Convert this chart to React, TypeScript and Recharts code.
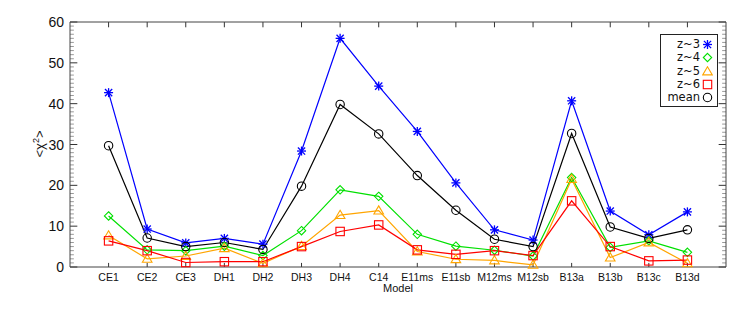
import React from 'react';
import { LineChart, Line, XAxis, YAxis, ReferenceLine } from 'recharts';

const models = ['CE1', 'CE2', 'CE3', 'DH1', 'DH2', 'DH3', 'DH4', 'C14', 'E11ms', 'E11sb', 'M12ms', 'M12sb', 'B13a', 'B13b', 'B13c', 'B13d'];
const z3 = [42.7, 9.3, 5.9, 7.0, 5.6, 28.4, 56.0, 44.3, 33.2, 20.6, 9.1, 6.6, 40.7, 13.7, 7.9, 13.5];
const z4 = [12.5, 4.2, 4.0, 5.1, 2.8, 8.9, 18.9, 17.3, 8.0, 5.1, 4.1, 2.7, 21.9, 4.8, 6.4, 3.6];
const z5 = [7.7, 2.0, 2.7, 4.6, 0.9, 5.1, 12.7, 13.8, 3.8, 1.9, 1.6, 0.5, 21.5, 2.3, 6.0, 0.9];
const z6 = [6.4, 4.0, 1.1, 1.3, 1.3, 5.0, 8.7, 10.3, 4.2, 3.1, 4.0, 2.8, 16.2, 5.0, 1.5, 1.7];
const meanVals = [29.7, 7.1, 5.0, 6.0, 4.3, 19.8, 39.8, 32.6, 22.4, 13.9, 6.8, 5.0, 32.7, 9.8, 7.0, 9.1];
const yMajor = [0, 10, 20, 30, 40, 50, 60];

const W = 747;
const H = 311;
const PLOT_LEFT = 70;
const PLOT_RIGHT = 726;
const PLOT_TOP = 22;
const PLOT_BOTTOM = 267;
const AXIS = '#444';
const FONT = '"Liberation Sans", Arial, Helvetica, sans-serif';

const X_MAX = 17;
const Y_MAX = 60;
const xTicks = models.map((_, i) => i + 1);
const yMinor = Array.from({ length: 61 }, (_, i) => i).filter((v) => !yMajor.includes(v));

// tick lengths expressed in axis units (1 x-unit ~ 38.6px, 1 y-unit ~ 4.08px)
const MAJOR_LEN_X = 0.19;
const MINOR_LEN_X = 0.1;
const TOP_LEN_Y = 1.3;
const BOTTOM_LEN_Y = 1.0;

const data = models.map((m, i) => ({
  pos: i + 1,
  model: m,
  z3: z3[i],
  z4: z4[i],
  z5: z5[i],
  z6: z6[i],
  mean: meanVals[i],
}));

const series = [
  { key: 'z3', name: 'z~3', color: '#0000ff', shape: 'star' },
  { key: 'z4', name: 'z~4', color: '#00e000', shape: 'diamond' },
  { key: 'z5', name: 'z~5', color: '#ffa500', shape: 'triangle' },
  { key: 'z6', name: 'z~6', color: '#ff0000', shape: 'square' },
  { key: 'mean', name: 'mean', color: '#000000', shape: 'circle' },
];

function Marker({ shape, cx, cy, color }: { shape: string; cx: number; cy: number; color: string }) {
  const sw = 1.1;
  if (shape === 'star') {
    const r = 4.5;
    const d = 3.6;
    return (
      <g stroke={color} strokeWidth={1.3}>
        <line x1={cx} y1={cy - r} x2={cx} y2={cy + r} />
        <line x1={cx - d} y1={cy - d} x2={cx + d} y2={cy + d} />
        <line x1={cx - d} y1={cy + d} x2={cx + d} y2={cy - d} />
        <line x1={cx - r} y1={cy} x2={cx + r} y2={cy} />
      </g>
    );
  }
  if (shape === 'diamond') {
    const r = 4.2;
    return <polygon points={`${cx},${cy - r} ${cx + r},${cy} ${cx},${cy + r} ${cx - r},${cy}`} fill="none" stroke={color} strokeWidth={sw} />;
  }
  if (shape === 'triangle') {
    const r = 4.8;
    return <polygon points={`${cx},${cy - r} ${cx + r},${cy + r * 0.7} ${cx - r},${cy + r * 0.7}`} fill="none" stroke={color} strokeWidth={sw} />;
  }
  if (shape === 'square') {
    const r = 4.2;
    return <rect x={cx - r} y={cy - r} width={2 * r} height={2 * r} fill="none" stroke={color} strokeWidth={sw} />;
  }
  return <circle cx={cx} cy={cy} r={4.2} fill="none" stroke={color} strokeWidth={sw} />;
}

const leftLabel = (props: any) => {
  const { y, payload } = props;
  return (
    <text key={`lt-${payload.value}`} x={PLOT_LEFT - 6} y={y} dy={5} textAnchor="end" fontSize={14} fontFamily={FONT} fill="#111">
      {payload.value}
    </text>
  );
};

const bottomLabel = (props: any) => {
  const { x, payload } = props;
  return (
    <text key={`bt-${payload.value}`} x={x} y={PLOT_BOTTOM + 13.5} textAnchor="middle" fontSize={10.5} fontFamily={FONT} fill="#111">
      {models[payload.value - 1]}
    </text>
  );
};

function YLabel() {
  const cx = 44;
  const cy = 144;
  return (
    <text transform={`translate(${cx},${cy}) rotate(-90)`} textAnchor="middle" fontSize={13} fontFamily={FONT} fill="#111">
      {'<χ'}
      <tspan dy={-5} fontSize={9}>2</tspan>
      <tspan dy={5}>{'>'}</tspan>
    </text>
  );
}

function LegendBox() {
  return (
    <div
      style={{
        position: 'absolute',
        left: 660,
        top: 34,
        border: '1.5px solid #222',
        background: '#fff',
        width: 58,
        height: 73,
        boxSizing: 'border-box',
        padding: '3px 0 0 0',
        fontFamily: '"DejaVu Sans", sans-serif',
        fontSize: 11.5,
        color: '#111',
      }}
    >
      {series.map((s) => (
        <div key={s.key} style={{ display: 'flex', alignItems: 'center', justifyContent: 'flex-end', height: 13.3, paddingRight: 4, lineHeight: '13px' }}>
          <span style={{ marginRight: 2 }}>{s.name}</span>
          <svg width={11} height={11}>
            <Marker shape={s.shape} cx={5.5} cy={5.5} color={s.color} />
          </svg>
        </div>
      ))}
    </div>
  );
}

function tickSeg(key: string, a: { x: number; y: number }, b: { x: number; y: number }, color: string) {
  return (
    <ReferenceLine
      key={key}
      xAxisId="b"
      yAxisId="l"
      segment={[a, b]}
      stroke={color}
      strokeWidth={1}
      ifOverflow="visible"
    />
  );
}

export default function App() {
  const ticks: React.ReactNode[] = [];
  yMinor.forEach((v) => {
    ticks.push(tickSeg(`lm${v}`, { x: 0, y: v }, { x: MINOR_LEN_X, y: v }, '#999'));
    ticks.push(tickSeg(`rm${v}`, { x: X_MAX, y: v }, { x: X_MAX - MINOR_LEN_X, y: v }, '#999'));
  });
  yMajor.forEach((v) => {
    ticks.push(tickSeg(`lM${v}`, { x: 0, y: v }, { x: MAJOR_LEN_X, y: v }, '#333'));
    ticks.push(tickSeg(`rM${v}`, { x: X_MAX, y: v }, { x: X_MAX - MAJOR_LEN_X, y: v }, '#333'));
  });
  xTicks.forEach((v) => {
    ticks.push(tickSeg(`t${v}`, { x: v, y: Y_MAX }, { x: v, y: Y_MAX - TOP_LEN_Y }, '#333'));
    ticks.push(tickSeg(`b${v}`, { x: v, y: 0 }, { x: v, y: BOTTOM_LEN_Y }, '#333'));
  });

  return (
    <div style={{ margin: -8, width: W, height: H, background: '#fff', position: 'relative' }}>
      <LineChart width={W} height={H} data={data} margin={{ top: PLOT_TOP - 1, right: W - PLOT_RIGHT - 1, bottom: 0, left: 30 }}>
        <XAxis
          xAxisId="b"
          dataKey="pos"
          type="number"
          domain={[0, X_MAX]}
          ticks={xTicks}
          interval={0}
          height={H - PLOT_BOTTOM}
          tickLine={false}
          axisLine={{ stroke: AXIS }}
          tick={bottomLabel}
          label={{ value: 'Model', position: 'insideBottom', offset: 19, fontSize: 11, fontFamily: FONT, fill: '#111' }}
        />
        <XAxis xAxisId="t" orientation="top" type="number" domain={[0, X_MAX]} height={1} tick={false} tickLine={false} axisLine={{ stroke: AXIS }} />
        <YAxis
          yAxisId="l"
          domain={[0, Y_MAX]}
          ticks={yMajor}
          interval={0}
          width={40}
          tickLine={false}
          axisLine={{ stroke: AXIS }}
          tick={leftLabel}
          label={{ content: () => <YLabel /> }}
        />
        <YAxis yAxisId="r" orientation="right" domain={[0, Y_MAX]} width={1} tick={false} tickLine={false} axisLine={{ stroke: AXIS }} />
        {ticks}
        {series.map((s) => (
          <Line
            key={s.key}
            xAxisId="b"
            yAxisId="l"
            dataKey={s.key}
            name={s.name}
            type="linear"
            stroke={s.color}
            strokeWidth={1.2}
            isAnimationActive={false}
            dot={(p: any) => <Marker key={`${s.key}-${p.index}`} shape={s.shape} cx={p.cx} cy={p.cy} color={s.color} />}
            activeDot={false}
          />
        ))}
      </LineChart>
      <LegendBox />
    </div>
  );
}
